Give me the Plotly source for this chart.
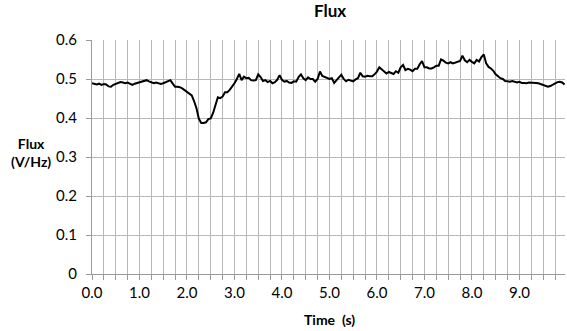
import plotly.graph_objects as go

# Flux samples every 0.05 s, starting at 0.0 s
sample_step = 0.05
flux = [
    0.489, 0.488, 0.486, 0.488, 0.485, 0.487, 0.486, 0.481, 0.480, 0.485,
    0.488, 0.489, 0.492, 0.491, 0.489, 0.491, 0.489, 0.485, 0.488, 0.490,
    0.493, 0.495, 0.496, 0.497, 0.494, 0.491, 0.489, 0.491, 0.488, 0.487,
    0.489, 0.491, 0.495, 0.497, 0.488, 0.480, 0.480, 0.479, 0.476, 0.471,
    0.466, 0.463, 0.458, 0.443, 0.425, 0.398, 0.387, 0.387, 0.389, 0.397,
    0.399, 0.413, 0.434, 0.453, 0.451, 0.455, 0.466, 0.466, 0.472, 0.480,
    0.489, 0.500, 0.513, 0.497, 0.506, 0.502, 0.503, 0.497, 0.496, 0.497,
    0.512, 0.505, 0.495, 0.497, 0.492, 0.495, 0.489, 0.492, 0.498, 0.510,
    0.498, 0.493, 0.495, 0.491, 0.490, 0.494, 0.493, 0.505, 0.512, 0.502,
    0.497, 0.504, 0.500, 0.500, 0.493, 0.500, 0.519, 0.508, 0.505, 0.502,
    0.500, 0.502, 0.490, 0.497, 0.505, 0.511, 0.500, 0.494, 0.498, 0.496,
    0.494, 0.499, 0.502, 0.516, 0.507, 0.506, 0.508, 0.507, 0.507, 0.512,
    0.519, 0.530, 0.524, 0.519, 0.514, 0.518, 0.516, 0.513, 0.520, 0.516,
    0.530, 0.536, 0.523, 0.526, 0.524, 0.520, 0.526, 0.526, 0.538, 0.546,
    0.530, 0.530, 0.527, 0.527, 0.530, 0.534, 0.534, 0.550, 0.547, 0.542,
    0.540, 0.543, 0.540, 0.542, 0.545, 0.546, 0.560, 0.548, 0.543, 0.549,
    0.544, 0.540, 0.549, 0.545, 0.556, 0.563, 0.540, 0.531, 0.527, 0.521,
    0.512, 0.507, 0.502, 0.500, 0.495, 0.494, 0.493, 0.495, 0.492, 0.491,
    0.493, 0.490, 0.490, 0.489, 0.491, 0.491, 0.490, 0.490, 0.489, 0.487,
    0.485, 0.484, 0.480, 0.482, 0.486, 0.490, 0.492, 0.493, 0.491, 0.486,
]
time_s = [round(i * sample_step, 2) for i in range(len(flux))]

x_tick_vals = [0, 1, 2, 3, 4, 5, 6, 7, 8, 9]
x_tick_text = ["0.0", "1.0", "2.0", "3.0", "4.0", "5.0", "6.0", "7.0", "8.0", "9.0"]
y_tick_vals = [0, 0.1, 0.2, 0.3, 0.4, 0.5, 0.6]
y_tick_text = ["0", "0.1", "0.2", "0.3", "0.4", "0.5", "0.6"]

FONT = "Lato, 'Open Sans', sans-serif"
GRID = "#b8b8b8"
AXIS = "#9a9a9a"

fig = go.Figure()
fig.add_trace(go.Scatter(
    x=time_s, y=flux, mode="lines",
    line=dict(color="black", width=2),
    showlegend=False, hoverinfo="skip",
))

fig.update_layout(
    width=567, height=331, autosize=False,
    margin=dict(l=92, r=2, t=40, b=57),
    paper_bgcolor="white", plot_bgcolor="white",
    font=dict(family=FONT, size=15, color="black"),
    xaxis=dict(
        range=[0, 9.96], tickmode="array", tickvals=x_tick_vals, ticktext=x_tick_text,
        showgrid=True, gridcolor=GRID, gridwidth=1.2,
        ticks="outside", ticklen=5, tickcolor=AXIS, tickwidth=1,
        minor=dict(dtick=0.25, showgrid=True, gridcolor=GRID, gridwidth=1.2,
                   ticks="outside", ticklen=5, tickcolor=AXIS, tickwidth=1),
        showline=True, linecolor=AXIS, linewidth=1,
        zeroline=False, tickfont=dict(size=15), fixedrange=True,
    ),
    yaxis=dict(
        range=[0, 0.6], tickmode="array", tickvals=y_tick_vals, ticktext=y_tick_text,
        showgrid=True, gridcolor=GRID, gridwidth=1.2,
        ticks="outside", ticklen=5, tickcolor=AXIS, tickwidth=1,
        showline=True, linecolor=AXIS, linewidth=1,
        zeroline=False, tickfont=dict(size=15), ticklabelstandoff=6, fixedrange=True,
    ),
    annotations=[
        dict(text="<b>Flux</b>", xref="paper", yref="paper", x=0.503, y=1.128,
             showarrow=False, font=dict(size=17), xanchor="center", yanchor="middle"),
        dict(text="<b>Flux<br>(V/Hz)</b>", xref="paper", yref="paper", x=-0.129, y=0.521,
             showarrow=False, font=dict(size=14), xanchor="center", yanchor="middle"),
        dict(text="<b>Time  (s)</b>", xref="paper", yref="paper", x=0.503, y=-0.193,
             showarrow=False, font=dict(size=14), xanchor="center", yanchor="middle"),
    ],
)

fig.write_html("out.html")
